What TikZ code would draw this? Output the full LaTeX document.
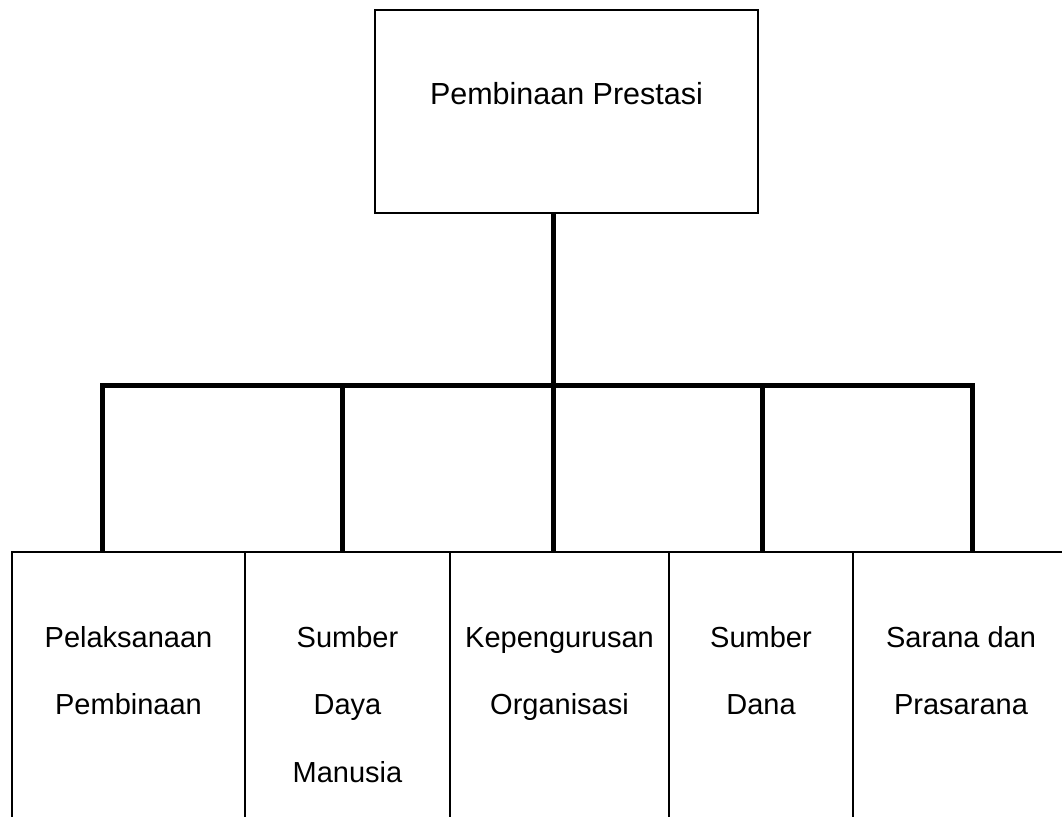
\documentclass[tikz,border=0pt]{standalone}
\usepackage{fontspec}
\setmainfont{Liberation Sans}
\begin{document}
\begin{tikzpicture}[x=1pt,y=1pt,
  box/.style={draw=black,line width=1.6pt,rectangle,inner sep=0pt,fill=white},
  toptxt/.style={font=\fontsize{30.5}{36}\selectfont,anchor=base,inner sep=0pt},
  lbl/.style={font=\fontsize{29}{34}\selectfont,anchor=base,inner sep=0pt},
  conn/.style={line width=5pt,black,line join=miter,line cap=butt}]
\useasboundingbox (0,0) rectangle (1062,816);
\clip (0,0) rectangle (1062,816);
\fill[white] (0,0) rectangle (1062,816);
% top box
\node[box,minimum width=383pt,minimum height=203pt] (top) at (566.5,704.5) {};
\node[toptxt] (toptext) at (566.5,711) {Pembinaan Prestasi};
% bottom boxes
\node[box,minimum width=233pt,minimum height=278pt] (b1) at (128.5,125) {};
\node[box,minimum width=205pt,minimum height=278pt] (b2) at (347.5,125) {};
\node[box,minimum width=219pt,minimum height=278pt] (b3) at (559.5,125) {};
\node[box,minimum width=184pt,minimum height=278pt] (b4) at (761,125) {};
\node[box,minimum width=217pt,minimum height=278pt] (b5) at (961.5,125) {};
% labels
\node[lbl] (l1a) at (128.5,168) {Pelaksanaan};
\node[lbl] (l1b) at (128.5,101) {Pembinaan};
\node[lbl] (l2a) at (347.5,168) {Sumber};
\node[lbl] (l2b) at (347.5,101) {Daya};
\node[lbl] (l2c) at (347.5,34) {Manusia};
\node[lbl] (l3a) at (559.5,168) {Kepengurusan};
\node[lbl] (l3b) at (559.5,101) {Organisasi};
\node[lbl] (l4a) at (761,168) {Sumber};
\node[lbl] (l4b) at (761,101) {Dana};
\node[lbl] (l5a) at (961,168) {Sarana dan};
\node[lbl] (l5b) at (961,101) {Prasarana};
% junctions on the bar
\coordinate (j1) at (102,430.5);
\coordinate (j2) at (342,430.5);
\coordinate (j3) at (553,430.5);
\coordinate (j4) at (762,430.5);
\coordinate (j5) at (972,430.5);
% connectors
\draw[conn] (top.south -| j3) -- (j3);
\draw[conn] (j1 |- b1.north) -- (j1) -- (j5) -- (j5 |- b5.north);
\draw[conn] (j2) -- (j2 |- b2.north);
\draw[conn] (j3) -- (j3 |- b3.north);
\draw[conn] (j4) -- (j4 |- b4.north);
\end{tikzpicture}
\end{document}
